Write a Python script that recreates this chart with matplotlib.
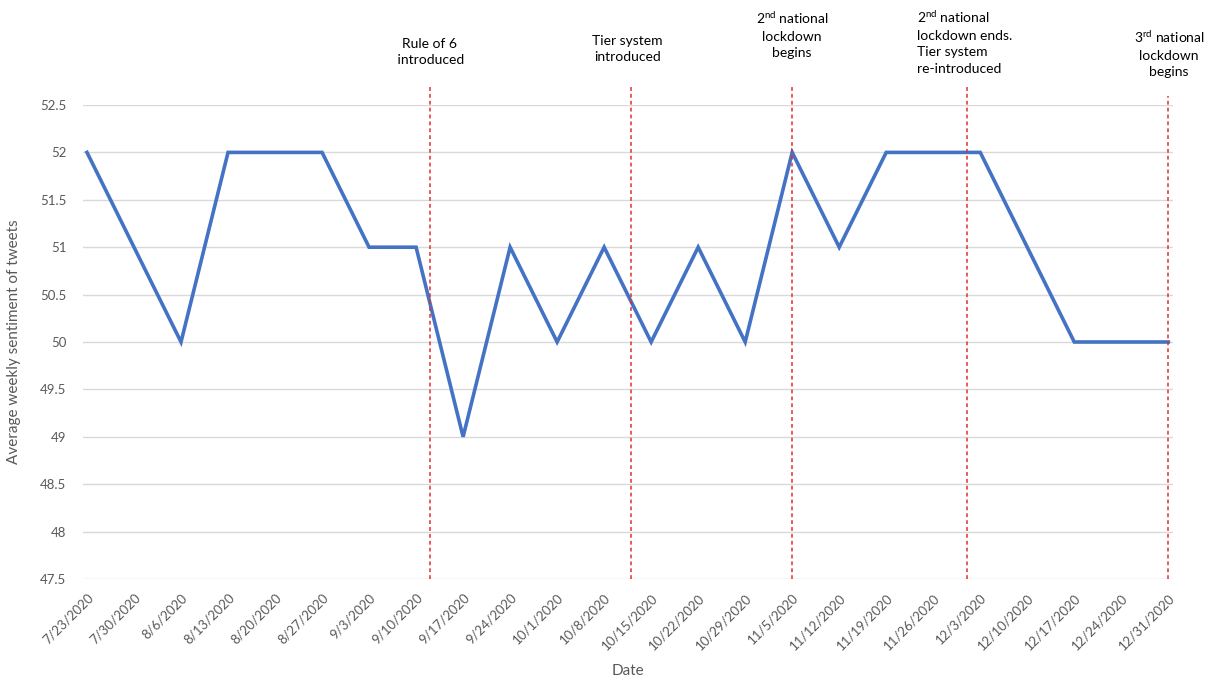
import matplotlib
matplotlib.use("Agg")
import matplotlib.pyplot as plt
import matplotlib.transforms as mtransforms
from datetime import date

dates = ["7/23/2020", "7/30/2020", "8/6/2020", "8/13/2020", "8/20/2020", "8/27/2020",
         "9/3/2020", "9/10/2020", "9/17/2020", "9/24/2020", "10/1/2020", "10/8/2020",
         "10/15/2020", "10/22/2020", "10/29/2020", "11/5/2020", "11/12/2020", "11/19/2020",
         "11/26/2020", "12/3/2020", "12/10/2020", "12/17/2020", "12/24/2020", "12/31/2020"]
sentiment = [52, 51, 50, 52, 52, 52, 51, 51, 49, 51, 50, 51, 50, 51, 50, 52, 51, 52,
             52, 52, 51, 50, 50, 50]
yticks = [47.5, 48, 48.5, 49, 49.5, 50, 50.5, 51, 51.5, 52, 52.5]

event_dates = ["9/12/2020", "10/12/2020", "11/5/2020", "12/1/2020", "12/31/2020"]
event_labels = ["Rule of 6\n introduced",
                "Tier system\nintroduced",
                "2$^{\\rm nd}$ national\nlockdown\nbegins",
                "2$^{\\rm nd}$ national\nlockdown ends.\nTier system\nre-introduced",
                "3$^{\\rm rd}$ national\nlockdown\nbegins"]

plt.rcParams['font.family'] = ['Lato', 'DejaVu Sans']
plt.rcParams['mathtext.fontset'] = 'custom'
plt.rcParams['mathtext.rm'] = 'Lato'

def to_date(s):
    m, d, y = s.split("/")
    return date(int(y), int(m), int(d))

start = to_date(dates[0])
event_pos = [(to_date(s) - start).days / 7.0 for s in event_dates]

fig = plt.figure(figsize=(12.1, 6.81), dpi=100)
ax = fig.add_axes([83/1210, 1 - 579/681, (1173 - 83)/1210, 474/681])

x = list(range(len(dates)))
ax.plot(x, sentiment, color="#4472C4", lw=2.6, solid_joinstyle='miter', zorder=3)

ax.set_ylim(47.5, 52.5)
ax.set_xlim(-0.085, len(dates) - 1 + 0.1)
ax.set_yticks(yticks)
ax.set_yticklabels([f"{v:g}" for v in yticks])
ax.set_xticks(x)
ax.set_xticklabels(dates, rotation=45, ha='right', rotation_mode='anchor')
ax.tick_params(axis='both', length=0, colors="#595959", labelsize=9.5)
ax.tick_params(axis='x', pad=9)
ax.tick_params(axis='y', pad=12)
for s in ax.spines.values():
    s.set_visible(False)
ax.grid(axis='y', color="#d9d9d9", lw=1)
ax.set_axisbelow(True)

ax.set_ylabel("Average weekly sentiment of tweets", color="#595959", fontsize=11)
ax.yaxis.set_label_coords(-0.057, 0.5)
ax.set_xlabel("Date", color="#595959", fontsize=11)
ax.xaxis.set_label_coords(0.5, -0.18)

tops = [52.71, 52.71, 52.71, 52.69, 52.6]
text_y = [1.112, 1.118, 1.149, 1.134, 1.109]
text_x_off = [0.0, -0.08, 0.0, -1.06, 0.02]
text_ha = ['center', 'center', 'center', 'left', 'center']
trans = mtransforms.blended_transform_factory(ax.transData, ax.transAxes)
for pos, top, lab, ty, dx, ha in zip(event_pos, tops, event_labels, text_y, text_x_off, text_ha):
    ax.plot([pos, pos], [47.5, top], color="#e03030", lw=1.1, ls=(0, (2.5, 2)), clip_on=False, zorder=4)
    ax.text(pos + dx, ty, lab, transform=trans, ha=ha, va='center',
            multialignment=('left' if ha == 'left' else 'center'),
            fontsize=10, color="black", linespacing=1.45)

fig.savefig("out.png", dpi=100)
